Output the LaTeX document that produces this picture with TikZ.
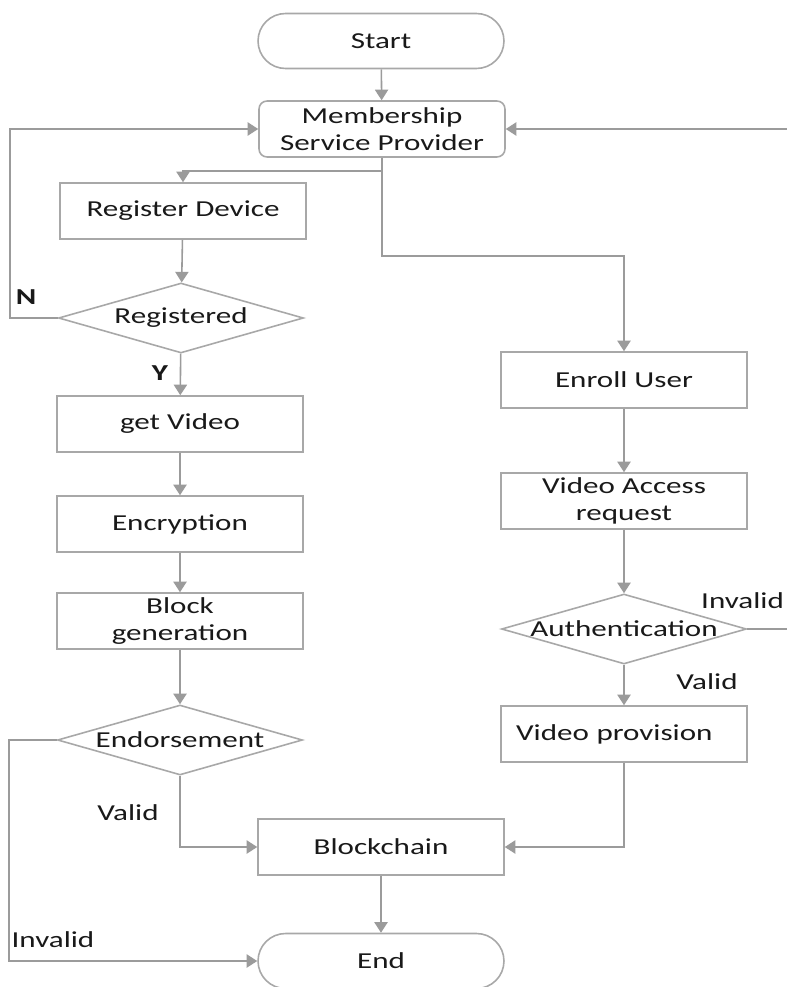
\documentclass[tikz,border=0pt]{standalone}
\usepackage{fontspec}
\setmainfont[FakeStretch=1.36]{Carlito}
\usetikzlibrary{shapes.geometric,arrows.meta}
\definecolor{linegray}{RGB}{155,155,155}
\definecolor{boxgray}{RGB}{168,168,168}
\definecolor{txt}{RGB}{25,25,25}
\begin{document}
\begin{tikzpicture}[x=0.02cm,y=-0.02cm,
  every node/.style={font=\fontsize{13}{15.2}\selectfont, text=txt},
  procbox/.style={draw=boxgray, line width=0.9pt, minimum width=4.92cm, minimum height=1.12cm, align=center, inner sep=2pt},
  termbox/.style={draw=boxgray, line width=0.9pt, minimum width=4.92cm, minimum height=1.1cm, rounded corners=0.55cm},
  mspbox/.style={procbox, rounded corners=0.16cm},
  decbox/.style={draw=boxgray, line width=0.9pt, diamond, aspect=3.5, inner sep=0pt, minimum width=4.9cm, minimum height=1.4cm},
  conn/.style={draw=linegray, line width=0.9pt},
  arr/.style={conn, -{Triangle[length=6pt,width=7.5pt]}},
  lbl/.style={font=\fontsize{13}{15.2}\selectfont\bfseries}
]
\useasboundingbox (0,0) rectangle (787,987);
\fill[white] (0,0) rectangle (787,987);

% nodes
\node[termbox] (start) at (381,41) {Start};
\node[mspbox] (msp) at (382,129) {Membership\\Service Provider};
\node[procbox] (regdev) at (183,211) {Register Device};
\node[decbox] (registered) at (181,318) {Registered};
\node[procbox] (getvideo) at (180,424) {get Video};
\node[procbox] (encrypt) at (180,524) {Encryption};
\node[procbox] (blockgen) at (180,621) {Block\\generation};
\node[decbox] (endorse) at (180,740) {Endorsement};
\node[procbox] (blockchain) at (381,847) {Blockchain};
\node[termbox] (end) at (381,961) {End};

\node[procbox] (enroll) at (624,380) {Enroll User};
\node[procbox] (vareq) at (624,501) {Video Access\\request};
\node[decbox] (auth) at (624,629) {Authentication};
\node[procbox, text width=4.32cm, inner xsep=0.3cm, align=left] (vprov) at (624,734) {Video provision};

% junction coordinates
\coordinate (j1) at (382,171);
\coordinate (j2) at (382,256);

% connectors
\draw[arr] (start) -- (msp);
\draw[conn] (msp.south) -- (j1);
\draw[arr] (j1) -| (regdev.north);
\draw[arr] (j1) -- (j2) -| (enroll.north);
\draw[arr] (regdev) -- (registered);
\draw[arr] (registered.west) -- (10,318) |- (msp.west);
\draw[arr] (registered) -- (getvideo);
\draw[arr] (getvideo) -- (encrypt);
\draw[arr] (encrypt) -- (blockgen);
\draw[arr] (blockgen) -- (endorse);
\draw[arr] (endorse.south) |- (blockchain.west);
\draw[arr] (endorse.west) -- (9,740) |- (end.west);
\draw[arr] (blockchain) -- (end);

\draw[arr] (enroll) -- (vareq);
\draw[arr] (vareq) -- (auth);
\draw[arr] (auth) -- (vprov);
\draw[arr] (vprov.south) |- (blockchain.east);
\draw[arr] (auth.east) -- (800,629) |- (msp.east);

% labels
\node[lbl] (lN) at (26,297) {N};
\node[lbl] (lY) at (160,373) {Y};
\node (lvalid1) at (128,813) {Valid};
\node (linvalid1) at (53,940) {Invalid};
\node (lvalid2) at (707,682) {Valid};
\node[anchor=east, inner xsep=1pt] (linvalid2) at (786,601) {Invalid};
\end{tikzpicture}
\end{document}
